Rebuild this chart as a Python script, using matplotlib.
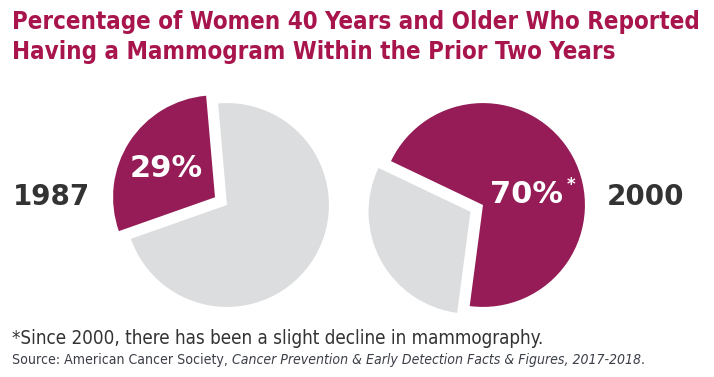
import matplotlib.pyplot as plt

# data
years = ["1987", "2000"]
pct_1987 = [29, 71]
pct_2000 = [30, 70]
labels = ["29%", "70%"]
title_lines = ["Percentage of Women 40 Years and Older Who Reported",
               "Having a Mammogram Within the Prior Two Years"]
note = "*Since 2000, there has been a slight decline in mammography."
source_parts = [("Source: American Cancer Society, ", "normal"),
                ("Cancer Prevention & Early Detection Facts & Figures, 2017-2018", "italic"),
                (".", "normal")]

MAROON = "#951c56"
GRAY = "#dcddde"
TITLE_COL = "#a8144c"
DARK = "#333333"
SRC = "#3c3f48"

W, H = 714, 377
fig = plt.figure(figsize=(W / 100, H / 100), dpi=100)
renderer = fig.canvas.get_renderer()


def pie_axes(cx, cy, r=98, lim=1.3):
    size = 2 * lim * r
    ax = fig.add_axes([(cx - size / 2) / W, (H - cy - size / 2) / H, size / W, size / H])
    ax.set_xlim(-lim, lim)
    ax.set_ylim(-lim, lim)
    ax.set_aspect("equal")
    ax.axis("off")
    return ax


def fit_text(x, y, s, width, size, **kw):
    # shrink/grow font so the line spans the same width as the original
    t = fig.text(x / W, 1 - y / H, s, fontsize=size, ha="left", va="center", **kw)
    w = t.get_window_extent(renderer).width
    t.set_fontsize(size * width / w)
    return t


# 1987 pie, highlighted slice pulled out
ax1 = pie_axes(227, 205)
ax1.pie(pct_1987, colors=[MAROON, GRAY], startangle=95, counterclock=True,
        explode=[0.14, 0], wedgeprops=dict(linewidth=0))
ax1.text(-0.6, 0.36, labels[0], color="white", fontsize=22, fontweight="bold",
         ha="center", va="center", family="DejaVu Sans")

# 2000 pie, grey slice pulled out
ax2 = pie_axes(483, 205)
ax2.pie(pct_2000, colors=[GRAY, MAROON], startangle=154.5, counterclock=True,
        explode=[0.14, 0], wedgeprops=dict(linewidth=0))
ax2.text(0.43, 0.1, labels[1], color="white", fontsize=22, fontweight="bold",
         ha="center", va="center", family="DejaVu Sans")
ax2.text(0.86, 0.2, "*", color="white", fontsize=12, fontweight="bold",
         ha="center", va="center", family="DejaVu Sans")

# year labels
fig.text(13 / W, 1 - 197 / H, years[0], color=DARK, fontsize=20, fontweight="bold",
         ha="left", va="center", family="DejaVu Sans")
fig.text(607 / W, 1 - 197 / H, years[1], color=DARK, fontsize=20, fontweight="bold",
         ha="left", va="center", family="DejaVu Sans")

# title
cond = dict(family="DejaVu Sans", fontstretch="condensed")
t1 = fit_text(12, 22, title_lines[0], 690, 20, color=TITLE_COL, fontweight="bold", **cond)
fig.text(12 / W, 1 - 52 / H, title_lines[1], color=TITLE_COL, fontweight="bold",
         fontsize=t1.get_fontsize(), ha="left", va="center", **cond)

# footnotes
fit_text(12, 338, note, 538, 14, color=DARK, **cond)

x = 12
pieces = []
for s, style in source_parts:
    t = fig.text(x / W, 1 - 360 / H, s, color=SRC, fontsize=11, style=style,
                 ha="left", va="center", **cond)
    pieces.append(t)
    x += t.get_window_extent(renderer).width
scale = 633 / (x - 12)
x = 12
for t in pieces:
    t.set_fontsize(11 * scale)
    t.set_x(x / W)
    x += t.get_window_extent(renderer).width

fig.savefig("out.png", dpi=100)
